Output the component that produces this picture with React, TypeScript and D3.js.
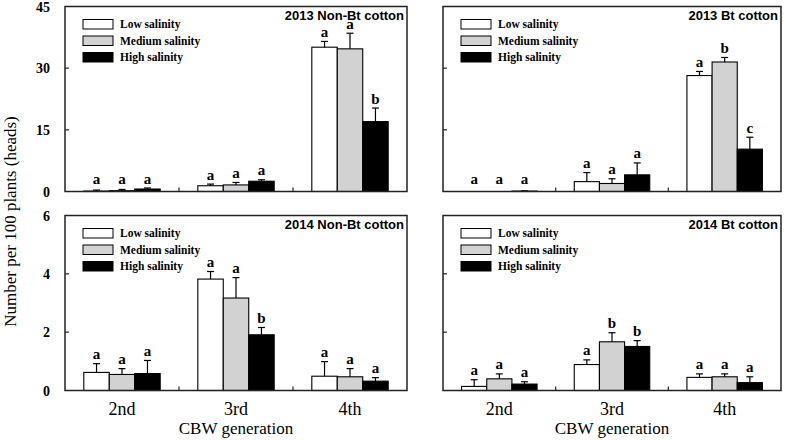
import React from 'react';
import * as d3 from 'd3';

const generations = ['2nd', '3rd', '4th'];
const salinityLevels = ['Low salinity', 'Medium salinity', 'High salinity'];
const salinityFills = ['#ffffff', '#d2d2d2', '#000000'];

const panelTitles = ['2013 Non-Bt cotton', '2013 Bt cotton', '2014 Non-Bt cotton', '2014 Bt cotton'];

// means / errors: [generation][salinity]
const nonBt2013Means = [[0.1, 0.2, 0.6], [1.4, 1.6, 2.5], [35.1, 34.7, 17.0]];
const nonBt2013Errors = [[0.25, 0.3, 0.25], [0.4, 0.6, 0.35], [1.4, 3.8, 3.3]];
const nonBt2013Letters = [['a', 'a', 'a'], ['a', 'a', 'a'], ['a', 'a', 'b']];

const bt2013Means = [[0, 0, 0.1], [2.4, 1.95, 4.05], [28.2, 31.5, 10.3]];
const bt2013Errors = [[0, 0, 0.05], [2.2, 1.15, 2.9], [1.0, 1.1, 2.9]];
const bt2013Letters = [['a', 'a', 'a'], ['a', 'a', 'a'], ['a', 'b', 'c']];

const nonBt2014Means = [[0.62, 0.55, 0.58], [3.82, 3.17, 1.91], [0.49, 0.47, 0.32]];
const nonBt2014Errors = [[0.3, 0.2, 0.45], [0.26, 0.7, 0.25], [0.5, 0.28, 0.12]];
const nonBt2014Letters = [['a', 'a', 'a'], ['a', 'a', 'b'], ['a', 'a', 'a']];

const bt2014Means = [[0.14, 0.4, 0.22], [0.89, 1.67, 1.51], [0.45, 0.47, 0.27]];
const bt2014Errors = [[0.23, 0.17, 0.08], [0.16, 0.31, 0.2], [0.12, 0.1, 0.2]];
const bt2014Letters = [['a', 'a', 'a'], ['a', 'b', 'b'], ['a', 'a', 'a']];

const ticks2013 = [0, 15, 30, 45];
const ticks2014 = [0, 2, 4, 6];

const xLabel = 'CBW generation';
const yLabel = 'Number per 100 plants (heads)';

const W = 786;
const H = 440;
const columns = [[65, 407], [443, 781]];
const rows = [[6.5, 191.5], [215.5, 390.5]];

const SERIF = '"Liberation Serif", "Times New Roman", serif';
const SANS = '"Liberation Sans", Arial, sans-serif';

type PanelDef = {
  title: string;
  means: number[][];
  errors: number[][];
  letters: string[][];
  ticks: number[];
  col: number;
  row: number;
};

const panels: PanelDef[] = [
  { title: panelTitles[0], means: nonBt2013Means, errors: nonBt2013Errors, letters: nonBt2013Letters, ticks: ticks2013, col: 0, row: 0 },
  { title: panelTitles[1], means: bt2013Means, errors: bt2013Errors, letters: bt2013Letters, ticks: ticks2013, col: 1, row: 0 },
  { title: panelTitles[2], means: nonBt2014Means, errors: nonBt2014Errors, letters: nonBt2014Letters, ticks: ticks2014, col: 0, row: 1 },
  { title: panelTitles[3], means: bt2014Means, errors: bt2014Errors, letters: bt2014Letters, ticks: ticks2014, col: 1, row: 1 },
];

function Panel({ p }: { p: PanelDef }) {
  const [x0, x1] = columns[p.col];
  const [yTop, yBot] = rows[p.row];
  const yMax = p.ticks[p.ticks.length - 1];
  const y = d3.scaleLinear().domain([0, yMax]).range([yBot, yTop]);
  const gx = d3.scaleBand<string>().domain(generations).range([x0, x1]).padding(0);
  const bw = gx.bandwidth();
  const sx = d3.scaleBand<string>().domain(salinityLevels).range([bw * 0.165, bw * 0.835]).padding(0);
  const showLabels = p.col === 0;
  const showX = p.row === 1;

  return (
    <g>
      {/* bars */}
      {generations.map((g, gi) =>
        salinityLevels.map((s, si) => {
          const m = p.means[gi][si];
          const e = p.errors[gi][si];
          const bx = (gx(g) as number) + (sx(s) as number);
          const w = sx.bandwidth();
          const cx = bx + w / 2;
          const yTopBar = y(m);
          const yErr = y(m + e);
          const labelY = Math.min(yErr - 4.5, yBot - 8);
          return (
            <g key={g + s}>
              {m > 0 && (
                <rect x={bx} y={yTopBar} width={w} height={yBot - yTopBar}
                  fill={salinityFills[si]} stroke="#000" strokeWidth={1.1} />
              )}
              {e > 0 && (
                <g stroke="#000" strokeWidth={1.2}>
                  <line x1={cx} x2={cx} y1={yTopBar} y2={yErr} />
                  <line x1={cx - 3.5} x2={cx + 3.5} y1={yErr} y2={yErr} />
                </g>
              )}
              <text x={cx} y={labelY} textAnchor="middle" fontFamily={SERIF}
                fontWeight="bold" fontSize={15} fill="#000">{p.letters[gi][si]}</text>
            </g>
          );
        })
      )}
      {/* frame */}
      <rect x={x0} y={yTop} width={x1 - x0} height={yBot - yTop} fill="none" stroke="#222" strokeWidth={1.5} />
      {/* y ticks */}
      {p.ticks.map((t) => (
        <g key={t}>
          {t > 0 && t < yMax && (
            <line x1={x0} x2={x0 + 4} y1={y(t)} y2={y(t)} stroke="#222" strokeWidth={1.2} />
          )}
          {showLabels && (
            <text x={50} y={y(t)} dy="0.36em" textAnchor="end" fontFamily={SERIF}
              fontWeight="bold" fontSize={14} fill="#000">{t}</text>
          )}
        </g>
      ))}
      {/* x separators */}
      {generations.slice(1).map((g) => (
        <line key={g} x1={gx(g) as number} x2={gx(g) as number} y1={yBot} y2={yBot - 4}
          stroke="#222" strokeWidth={1.2} />
      ))}
      {/* x labels */}
      {showX && generations.map((g) => (
        <text key={g} x={(gx(g) as number) + bw / 2} y={415} textAnchor="middle"
          fontFamily={SERIF} fontSize={18} fill="#000">{g}</text>
      ))}
      {showX && (
        <text x={(x0 + x1) / 2} y={434} textAnchor="middle" fontFamily={SERIF} fontSize={17} fill="#000">{xLabel}</text>
      )}
      {/* title */}
      <text x={x1 - 3} y={yTop + 13} textAnchor="end" fontFamily={SANS} fontWeight="bold" fontSize={13} fill="#000">{p.title}</text>
      {/* legend */}
      {salinityLevels.map((s, i) => {
        const ly = yTop + 13 + i * 16.5;
        return (
          <g key={s}>
            <rect x={x0 + 18} y={ly} width={30} height={9.5} fill={salinityFills[i]} stroke="#000" strokeWidth={1} />
            <text x={x0 + 55} y={ly + 8.5} fontFamily={SERIF} fontWeight="bold" fontSize={11.5} fill="#000">{s}</text>
          </g>
        );
      })}
    </g>
  );
}

export default function App() {
  return (
    <svg width={W} height={H} style={{ position: 'absolute', left: 0, top: 0, background: '#fff' }}>
      <rect width={W} height={H} fill="#fff" />
      {panels.map((p) => (
        <Panel key={p.title} p={p} />
      ))}
      <text transform={`translate(15.5,${(rows[0][0] + rows[1][1]) / 2 + 23}) rotate(-90)`} textAnchor="middle"
        fontFamily={SERIF} fontSize={17} fill="#000">{yLabel}</text>
    </svg>
  );
}
